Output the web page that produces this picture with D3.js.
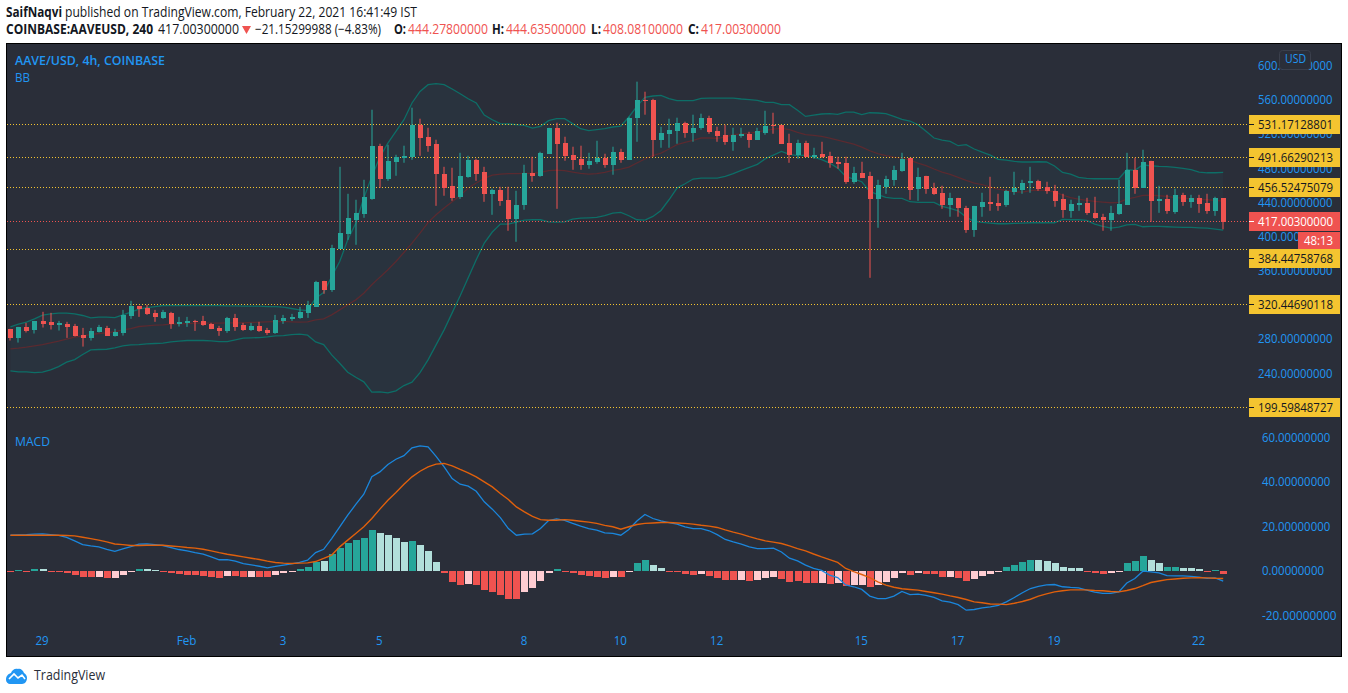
<!DOCTYPE html>
<html>
<head>
<meta charset="utf-8">
<title>AAVE/USD</title>
<script src="https://cdn.jsdelivr.net/npm/d3@7"></script>
<style>
  html, body { margin: 0; padding: 0; background: #fff; }
  svg { display: block; }
  text { font-family: "Open Sans", sans-serif; }
</style>
</head>
<body>
<svg id="chart" width="1348" height="693"></svg>
<script>
// open, high, low, close for every 4h bar
var candles = [
  [291.6,291.6,277.9,281.4],[281,293.9,275.5,293.9],[293.9,298.6,287.3,289.2],[290.4,300.9,286.1,300.9],
  [300.9,311.5,293.1,297.4],[299.8,310.3,290.8,296.2],[296.6,300.9,289.6,298.6],[297.4,299.8,281,293.9],
  [295.1,297.4,282.6,283.4],[284.5,292.7,270.8,281],[281,292.7,277.9,289.2],[288,296.2,287.3,293.9],
  [292.7,295.1,283.4,283.4],[283.4,291.6,282.6,288],[286.9,313.8,283.7,307.9],[306.8,324.4,303.3,318.5],
  [318.5,318.5,305.6,314.6],[316.2,319.7,307.9,309.1],[310.3,313.8,299.8,305.6],[304.4,313.8,303.3,311.5],
  [310.3,311.5,291.6,297.4],[297.4,305.6,294.3,299.8],[298.6,305.6,293.9,300.9],[300.9,302.1,289.2,300.2],
  [300.9,306.8,295.1,296.2],[297.4,298.6,291.2,291.6],[292.7,295.1,283.4,289.2],[289.2,305.6,286.9,304.4],
  [304.4,309.1,289.2,293.9],[296.2,298.6,289.2,290.4],[290.4,298.6,289.2,295.1],[295.1,299.8,288,289.2],
  [290.4,292.7,284.5,286.9],[286.5,307.9,285.7,302.1],[300.9,307.9,297.4,304.4],[303.3,309.1,300.9,305.6],
  [304.4,317.3,303.3,311.5],[310.3,324.4,304.4,319.3],[317.3,347.8,317.3,346.6],[347.8,347.8,332.6,337.2],
  [337.2,390,334.9,386.4],[385.3,481.3,385.3,404],[402.8,449.7,395.8,421.6],[419.2,442.7,390,427.4],
  [426.3,466.1,421.6,446.2],[443.8,548.1,442.7,506],[506,508.3,456.7,467.3],[467.3,507.1,464.9,488.4],
  [487.2,495.4,470.8,493.1],[491.9,506,486,494.2],[493.1,550.5,489.5,530.6],[530.6,537.6,494.2,515.3],
  [516.5,527,498.9,506],[508.3,513,435.6,473.1],[473.1,481.3,447.4,456.7],[459.1,480.2,441.5,445],
  [446.2,497.7,443.8,470.8],[469.6,494.2,468.5,489.5],[489.5,490.7,464.9,473.1],[475.5,481.3,440.3,449.7],
  [449.7,455.6,425.1,454.4],[454.4,457.9,435.6,441.5],[442.7,457.9,406.4,420.4],[420.4,453.2,393.5,436.8],
  [436.8,483.7,431,474.3],[474.3,493.1,463.8,470.8],[470.8,498.9,469.6,497.7],[496.6,527,496.6,527],
  [527,532.9,432.1,508.3],[509.5,516.5,488.4,494.2],[495.4,504.8,477.8,489.5],[490.7,506,477.8,483.7],
  [483.7,497.7,479,488.4],[487.2,511.8,484.9,491.9],[491.9,496.6,480.2,483.7],[483.7,504.8,472,498.9],
  [498.9,502.4,486,489.5],[489.5,539.9,489.5,538.8],[538.8,581,510.6,559.8],[559.8,569.2,542.3,558.7],
  [559.8,560.9,493.1,513],[513,528.2,503.6,521.2],[520,537.6,503.6,524.7],[523.5,538.8,508.3,532.9],
  [532.9,534.1,515.3,521.2],[521.2,542.3,510.6,527],[527,543.5,524.7,538.8],[538.8,541.1,520,522.3],
  [523.5,528.2,510.6,517.7],[518.8,530.6,507.1,510.6],[510.6,527,500.1,518.8],[517.7,527,515.3,520],
  [520,522.3,503.6,513],[513,527,513,523.5],[521.2,546.9,518.8,529.4],[530.6,544.6,520,529.4],
  [530.6,530.6,508.3,508.3],[509.5,520,486,495.4],[495.4,513,490.7,509.5],[509.5,511.8,493.1,493.1],
  [493.1,503.6,490.7,495.4],[496.6,510.6,491.9,493.1],[494.2,498.9,480.2,486],[487.2,493.1,479,484.9],
  [486,493.1,461.4,463.8],[463.8,481.3,461.4,474.3],[474.3,487.2,468.5,468.5],[470.8,475.5,351.3,443.8],
  [443.8,466.1,409.9,460.2],[457.9,470.8,449.7,467.3],[466.1,482.5,459.1,477.8],[476.7,497.7,475.5,490.7],
  [491.9,491.9,442.7,454.4],[455.6,480.2,441.5,469.6],[470.8,470.8,449.7,455.6],[456.7,462.6,448.5,449.7],
  [450.9,459.1,432.1,436.8],[436.8,450.9,422.8,445],[445,445,422.8,433.3],[433.3,435.6,404,407.5],
  [407.5,435.6,399.3,435.6],[434.5,450.9,422.8,440.3],[440.3,469.6,429.8,438],[439.2,449.7,429.8,435.6],
  [436.8,454.4,434.5,453.2],[452,475.5,448.5,456.7],[454.4,466.1,449.7,462.6],[462.6,481.3,450.9,464.9],
  [464.9,466.1,453.2,455.6],[457.9,463.8,449.7,453.2],[453.2,460.2,434.5,441.5],[443.8,449.7,421.6,431],
  [429.8,442.7,421.6,438],[436.8,447.4,429.8,439.2],[439.2,445,425.1,427.4],[427.4,446.2,420.4,421.6],
  [422.8,426.3,406.4,419.2],[419.2,435.6,406.4,427.4],[426.3,466.1,425.1,438],[436.8,497.7,436.8,477.8],
  [477.8,491.9,449.7,456.7],[456.7,501.3,456.7,487.2],[488.4,488.4,416.9,441.5],[441.5,459.1,427.4,443.8],
  [443.8,448.5,426.3,429.8],[428.6,455.6,426.3,448.5],[448.5,450.9,435.6,440.3],[440.3,448.5,433.3,445],
  [445,448.5,427.4,438],[439.2,449.7,426.3,429.8],[429.8,446.2,423.9,445],[444.278,444.635,408.081,417.003]
];

var bbUpper = [
  293.9,297,299.4,303.3,307.6,309.1,309.9,309.9,309.1,307.2,304.4,305.2,305.2,304.8,307.9,311.1,
  314.6,316.5,317.7,318.9,318.9,318.9,318.9,318.9,318.9,318.9,318.9,318.5,318.5,318.1,318.1,318.1,
  317.7,317.7,316.9,315.4,313.8,313,327.5,334.1,352.9,370.4,395.8,415.3,444.7,470,492.7,509.1,
  522.8,536.4,556,569.6,577.5,578.6,577.5,572.4,566.9,561,556,541.9,536.4,531.8,531.4,530.6,
  529.8,526.7,528.6,535.3,537.6,537.6,531.8,525.9,523.6,524.7,525.9,527.9,529,539.6,552.1,562.6,
  564.2,565,561,558.7,558.7,558.7,561.4,561.8,561.8,561.8,561.8,560.7,559.9,559.1,556.7,556.7,
  554,554,547.4,540.3,541.9,543.1,543.5,542.7,545.4,545.4,542.3,544.6,544.3,543.5,540.3,536.8,
  534.9,530.6,522.8,515,512.6,511.1,506,507.2,502.1,498.6,495,490,489.2,487.6,486.9,486.9,
  487.2,486.9,482.2,474.7,472.8,468.9,467.7,467.3,467.3,467.3,467.3,477.9,477.1,483.7,482.5,481.8,
  481.4,480.6,479.4,477.9,475.1,474.3,474.3,474.7
];
var bbMiddle = [
  268.1,268.9,270.1,271.7,273.2,275.2,277.1,279.5,281.8,283.4,284.9,286.1,286.9,288.4,290.4,291.9,
  294.3,295.1,295.9,296.3,297,297.4,297.8,298.2,298.2,298.2,298.2,298.6,298.6,298.6,299,299.4,
  299.8,300.2,300.2,299.8,299.4,299.8,302.1,303.3,307.9,313.8,319.7,325.5,333.3,343.1,352.1,360.7,
  370.4,381,391.9,403.6,416,425.2,433,440.4,447.8,456.4,462.3,467.7,471.6,472.8,473.2,473.2,
  473.6,473.6,474.8,476.7,477.5,476.7,475.1,473.6,472.8,473.2,474.8,477.1,478.7,481,485.7,490.4,
  494.3,497.4,502.1,507.2,509.9,512.2,515,515,514.6,516.1,518.9,519.7,520.8,522,524,525.5,
  526.3,524.7,521.6,518.9,518.1,516.9,515,512.6,510.3,507.9,504.4,500.1,496.6,494.3,492.7,491.5,
  489.2,485.7,482.6,478.7,475.1,472.4,468.9,465.4,462.2,460.3,457.6,455.2,453.6,452.1,451.7,453.3,
  454,453.3,452.1,448.2,445.1,443.5,441.9,440.8,440,439.2,439.6,443.5,445.5,447.8,448.2,447.4,
  446.6,445.1,444.7,443.9,443.5,442.7,441.9,441.1
];
var bbLower = [
  242.4,241.2,241.2,240.4,240.8,243.5,247.4,252.5,255.6,261.5,267,267.4,267.7,269.3,271.6,272.8,
  273.2,274,274.4,274.8,276.3,277.1,277.9,277.9,277.9,277.5,276.7,276.7,278.7,280.6,281,281.4,
  282.2,283.4,283.7,284.9,285.3,284.1,276.3,273.2,261.1,251.3,240.8,234.9,229.5,217.4,217.8,216.6,
  219,225.2,229.1,240.4,255.2,272.8,290.4,310.3,330.2,351.3,372.4,392,404.9,414.2,414.2,416.6,
  418.9,419.3,419.3,416.9,416.6,416.9,420,421.3,421.6,422,424,427.1,427.9,424,419.3,418.9,
  423.2,430.2,442.7,456.4,461.5,467,468.1,468.1,468.1,470.1,473.2,477.1,480.6,484.1,490.7,495,
  499.3,495.8,494.3,495,492.7,489.6,485.7,479.8,470.1,467,463.8,452.5,448.6,445.5,444.3,444.3,
  440.4,439.6,439.6,439.6,434.9,432.6,429.8,422.4,417.3,416.2,415.4,414.6,414.6,415,415.4,415.8,
  415.8,415.8,415.8,419.7,419.3,419.3,418.5,414.2,411.5,409.5,410.7,413.4,413.8,411.1,411.5,411.5,
  411.1,410.7,410.3,410.3,409.9,409.5,408.4,407.2
];

var macdLine = [
  15.9,16.1,16.2,16.4,16.5,16.2,15.8,14.9,13.4,11.7,11.1,10.7,9.6,8.7,9.8,10.8,
  11.9,12,11.7,11.3,10.4,9.5,8.9,8.1,7.4,6.2,4.9,5,4.3,3.2,2.6,2,
  1.3,1.9,2.5,3.1,3.7,4.7,8.1,9.6,14.4,19.7,24.9,29.7,34.3,42.1,44.3,47.6,
  50,51.6,55.1,56,55.5,51.3,46.6,41.3,38.8,37.9,35.6,30.9,27.6,23.8,18.9,15.9,
  16.4,16.5,18.9,22.5,23.2,22.6,21.2,20,18.9,18.2,17,16.7,15.9,18.5,22.3,25.2,
  23.4,22.3,21.6,20.9,19.7,18.9,18.9,17.9,16.2,14,12.9,11.9,10.7,9.9,9.9,10.1,
  8.4,5.6,4.4,2.5,1,0.1,-2,-3.1,-6.4,-7.2,-8.4,-11.4,-12.5,-12.5,-11.4,-9.3,
  -10.7,-10.5,-11.1,-12,-13.5,-14.1,-15.2,-17.7,-17.4,-16.7,-16.2,-15.5,-14,-12,-9.9,-8,
  -7,-6.4,-6.2,-7.2,-7.5,-7.7,-8.7,-9.6,-10.2,-10.2,-9.5,-5.5,-3.5,-0.2,-0.5,-1,
  -2.2,-2.3,-2.3,-2.5,-2.9,-3.4,-3.2,-4.7
];
var signalLine = [
  15.9,15.9,15.9,15.9,15.9,15.9,15.9,15.8,15.6,15,14.4,13.7,12.9,12,11.7,11.3,
  11.3,11.4,11.4,11.4,11.1,10.8,10.4,10.1,9.6,8.9,8.1,7.4,6.8,6.2,5.6,5,
  4.3,3.7,3.4,3.2,3.4,3.5,4.1,5.5,7,10.7,13.7,16.7,19.7,23.4,27.6,31.6,
  35.1,38.8,42.1,44.6,46.6,47.8,48.1,47,45.4,43.9,42.1,39.8,37.6,34.6,31.9,28.6,
  26.4,24.4,22.9,22.6,22.6,22.9,22.6,22.2,21.8,21.2,20.3,19.7,18.6,19.7,20.7,21.2,
  21.4,21.6,21.6,21.4,21.2,20.9,20.4,20,19.4,18.3,17.3,16.4,15.3,14.3,13.4,12.8,
  12.2,11.1,9.9,8.9,7.5,6.2,5,3.7,1,-0.4,-1.7,-3.1,-5,-6.5,-7.4,-8.1,
  -8.4,-8.7,-9.3,-9.9,-10.5,-11.3,-12,-12.9,-14,-14.4,-14.9,-15,-15.2,-14.6,-13.8,-12.8,
  -11.4,-10.4,-9.5,-9,-8.6,-8.6,-8.6,-8.9,-9,-9.3,-9.5,-8.9,-8,-6.7,-5.3,-4.6,
  -4,-3.7,-3.4,-3.2,-3.1,-3.2,-3.4,-3.5
];
var histogram = [
  -0.3,0.3,-0.3,0.7,0.7,-0.4,-0.7,-1.1,-2,-2.9,-2.9,-2.9,-3.4,-3.4,-2,-0.2,
  0.7,0.7,0.2,-0.2,-1.1,-1.6,-2,-2,-2.5,-2.9,-3.4,-2.5,-2.5,-2.9,-2.9,-2.9,
  -2.9,-2,-1.1,-0.7,0.7,1.6,3.8,4.3,7.4,10.1,12.3,13.7,14.6,18.2,16.8,15.9,
  14.6,12.8,13.2,11.4,8.7,3.8,-1.1,-5.2,-6.5,-6.1,-6.5,-8.7,-9.7,-11,-12.8,-12.8,
  -9.7,-7.8,-4.7,-1.1,0.7,-0.2,-1.1,-2,-2.5,-2.9,-3.4,-2.9,-2.9,-0.3,3.4,4.7,
  2.5,1.1,-0.2,-0.7,-1.6,-2,-1.6,-2.5,-3.4,-4.3,-4.3,-4.3,-4.7,-4.3,-3.4,-2.9,
  -3.8,-5,-4.7,-5.6,-5.6,-5.6,-6,-5.6,-6.8,-6.5,-6.2,-7.4,-6.5,-5.2,-3.4,-1.1,
  -2,-1.1,-1.6,-1.6,-2.9,-2.9,-3.4,-4.7,-3.8,-2.5,-1.6,-0.7,1.6,2.5,3.8,4.7,
  4.7,4.3,3.4,1.6,1.1,1.1,-0.2,-1.1,-1.6,-1.1,-0.3,3.4,4.3,6.5,4.7,3.4,
  1.6,1.6,1.1,1.1,0.7,-0.7,0.2,-1.6
];
// g = strong green, l = pale green, r = strong red, p = pale red
var histShade = [
  'r','g','r','g','l','r','r','r','r','r','r','p','r','p','p','p',
  'g','l','l','r','r','r','r','r','r','r','r','p','r','r','p','r',
  'r','p','p','p','g','g','g','l','g','g','g','g','g','g','l','l',
  'l','l','g','l','l','l','r','r','r','p','r','r','r','r','r','r',
  'p','p','p','p','g','r','r','r','r','r','r','p','r','p','g','g',
  'l','l','r','r','r','r','p','r','r','r','r','p','r','p','p','p',
  'r','r','r','r','r','p','r','p','r','p','p','r','p','p','p','p',
  'r','p','r','r','r','p','r','r','p','p','p','p','g','g','g','g',
  'l','l','l','l','l','l','r','r','r','p','p','g','g','g','l','l',
  'g','g','l','l','l','r','g','r'
];

var priceTicks = [600, 560, 520, 480, 440, 400, 360, 320, 280, 240, 200];
var macdTicks = [60, 40, 20, 0, -20];
var levels = [531.17128801, 491.66290213, 456.52475079, 384.44758768, 320.44690118, 199.59848727];
var lastPrice = 417.003;
var dateBars = [4, 22, 34, 46, 64, 76, 88, 106, 118, 130, 148];
var dateLabels = ['29', 'Feb', '3', '5', '8', '10', '12', '15', '17', '19', '22'];

var UP = '#26a69a';
var DOWN = '#ef5350';
var BLUE = '#2196f3';
var YELLOW = '#f4c430';
var shades = { g: '#26a69a', l: '#b2dfdb', r: '#ef5350', p: '#ffcdd2' };

var svg = d3.select('#chart');
var frame = { left: 6.5, top: 43.5, right: 1341.5, bottom: 656.5, axis: 1249 };

var x = d3.scaleLinear().domain([0, 151]).range([10.4, 1223.2]);
var yPrice = d3.scaleLinear().domain([199.59848727, 531.17128801]).range([407.4, 124.2]);
var yMacd = d3.scaleLinear().domain([-20, 60]).range([615.3, 436.9]);

function addText(sel, opts) {
  var t = sel.append('text')
    .attr('x', opts.x)
    .attr('y', opts.y)
    .attr('fill', opts.fill || '#131722')
    .attr('font-size', opts.size || 13)
    .attr('font-weight', opts.weight || 400)
    .text(opts.text);
  if (opts.width) {
    t.attr('textLength', opts.width).attr('lengthAdjust', 'spacingAndGlyphs');
  }
  return t;
}

function drawHeader() {
  var head = svg.append('g');
  addText(head, { x: 6, y: 17, weight: 700, text: 'SaifNaqvi', width: 56, size: 14 });
  addText(head, { x: 65, y: 17, text: 'published on TradingView.com, February 22, 2021 16:41:49 IST', width: 352, size: 14 });
  addText(head, { x: 6, y: 34, weight: 700, text: 'COINBASE:AAVEUSD, 240', width: 147, size: 14 });
  addText(head, { x: 158, y: 34, text: '417.00300000', width: 81, size: 14 });
  head.append('path').attr('d', 'M242,26h9l-4.5,8z').attr('fill', DOWN);
  addText(head, { x: 255, y: 34, text: '\u221221.15299988 (\u22124.83%)', width: 126, size: 14 });
  var parts = [
    ['O:', 394, '444.27800000', 408],
    ['H:', 492, '444.63500000', 506],
    ['L:', 591, '408.08100000', 603],
    ['C:', 688, '417.00300000', 701]
  ];
  parts.forEach(function (p) {
    addText(head, { x: p[1], y: 34, weight: 700, text: p[0], width: p[3] - p[1] - 2, size: 14 });
    addText(head, { x: p[3], y: 34, fill: DOWN, text: p[2], width: 80, size: 14 });
  });
}

function drawFrame() {
  svg.append('rect')
    .attr('x', frame.left).attr('y', frame.top)
    .attr('width', frame.right - frame.left).attr('height', frame.bottom - frame.top)
    .attr('fill', '#2a2e39').attr('stroke', '#000').attr('stroke-width', 1);
  svg.append('clipPath').attr('id', 'plot').append('rect')
    .attr('x', frame.left + 0.5).attr('y', frame.top + 0.5)
    .attr('width', frame.axis - frame.left).attr('height', frame.bottom - frame.top - 1);
}

function levelY(d) {
  return Math.floor(yPrice(d)) + 0.5;
}

function drawLevels() {
  var g = svg.append('g');
  g.selectAll('line.level').data(levels).enter().append('line')
    .attr('class', 'level')
    .attr('x1', 7).attr('x2', frame.axis)
    .attr('y1', levelY)
    .attr('y2', levelY)
    .attr('stroke', YELLOW).attr('stroke-dasharray', '1 2');
  g.append('line')
    .attr('x1', 7).attr('x2', frame.axis)
    .attr('y1', levelY(lastPrice))
    .attr('y2', levelY(lastPrice))
    .attr('stroke', DOWN).attr('stroke-dasharray', '1 2');
}

function drawBands() {
  var g = svg.append('g').attr('clip-path', 'url(#plot)');
  var band = d3.area()
    .x(function (d, i) { return x(i); })
    .y0(function (d, i) { return yPrice(bbLower[i]); })
    .y1(function (d) { return yPrice(d); });
  g.append('path').attr('d', band(bbUpper)).attr('fill', '#26a69a').attr('fill-opacity', 0.05);

  var line = d3.line()
    .x(function (d, i) { return x(i); })
    .y(function (d) { return yPrice(d); });
  [[bbUpper, '#0d6e67'], [bbLower, '#0d6e67'], [bbMiddle, '#5a2a30']].forEach(function (s) {
    g.append('path').attr('d', line(s[0])).attr('fill', 'none')
      .attr('stroke', s[1]).attr('stroke-width', 1.3);
  });
}

function drawCandles() {
  var g = svg.append('g').attr('clip-path', 'url(#plot)');
  var bars = g.selectAll('g.candle').data(candles).enter().append('g').attr('class', 'candle');
  function color(d) { return d[3] >= d[0] ? UP : DOWN; }
  bars.append('rect')
    .attr('x', function (d, i) { return Math.round(x(i)) - 0.5; })
    .attr('width', 1)
    .attr('y', function (d) { return yPrice(d[1]); })
    .attr('height', function (d) { return yPrice(d[2]) - yPrice(d[1]); })
    .attr('fill', color);
  bars.append('rect')
    .attr('x', function (d, i) { return Math.round(x(i)) - 2.5; })
    .attr('width', 5)
    .attr('y', function (d) { return yPrice(Math.max(d[0], d[3])); })
    .attr('height', function (d) { return Math.max(1, Math.abs(yPrice(d[0]) - yPrice(d[3]))); })
    .attr('fill', color)
    .attr('shape-rendering', 'crispEdges');
}

function drawMacd() {
  var g = svg.append('g');
  g.selectAll('rect.hist').data(histogram).enter().append('rect')
    .attr('class', 'hist')
    .attr('x', function (d, i) { return Math.round(x(i)) - 3.5; })
    .attr('width', 7)
    .attr('y', function (d) { return yMacd(Math.max(d, 0)); })
    .attr('height', function (d) { return Math.max(1, Math.abs(yMacd(d) - yMacd(0))); })
    .attr('fill', function (d, i) { return shades[histShade[i]]; })
    .attr('shape-rendering', 'crispEdges');

  var line = d3.line()
    .x(function (d, i) { return x(i); })
    .y(function (d) { return yMacd(d); });
  g.append('path').attr('d', line(macdLine)).attr('fill', 'none').attr('stroke', '#1a86dc').attr('stroke-width', 1.3);
  g.append('path').attr('d', line(signalLine)).attr('fill', 'none').attr('stroke', '#e0600c').attr('stroke-width', 1.4);
}

function styleAxis(g) {
  g.select('.domain').remove();
  g.selectAll('.tick line').remove();
  g.selectAll('text')
    .attr('fill', BLUE)
    .attr('font-size', 13)
    .attr('font-family', '"Open Sans", sans-serif')
    .attr('textLength', function () { return this.textContent.length * 6.2; })
    .attr('lengthAdjust', 'spacingAndGlyphs');
}

function drawAxes() {
  var fmt = function (d) { return d.toFixed(8); };
  var right = d3.axisRight(yPrice).tickValues(priceTicks).tickFormat(fmt).tickSize(0).tickPadding(0);
  svg.append('g').attr('transform', 'translate(1258,0)').call(right).call(styleAxis);
  var macdAxis = d3.axisRight(yMacd).tickValues(macdTicks).tickFormat(fmt).tickSize(0).tickPadding(0);
  svg.append('g').attr('transform', 'translate(1262,0)').call(macdAxis).call(styleAxis);

  var dateAxis = d3.axisBottom(x).tickValues(dateBars)
    .tickFormat(function (d, i) { return dateLabels[i]; }).tickSize(0).tickPadding(0);
  var bottom = svg.append('g').attr('transform', 'translate(-1,636)').call(dateAxis);
  bottom.select('.domain').remove();
  bottom.selectAll('text')
    .attr('fill', BLUE).attr('font-size', 13).attr('font-family', '"Open Sans", sans-serif')
    .attr('textLength', function () { return this.textContent.length * 6.6; })
    .attr('lengthAdjust', 'spacingAndGlyphs');
}

// labelY moves the tag off its level when another tag sits there
function priceTag(level, bg, fg, label, labelY) {
  var cy = labelY || levelY(level);
  svg.append('rect').attr('x', 1249).attr('y', cy - 9.5).attr('width', 91).attr('height', 19).attr('fill', bg);
  svg.append('line').attr('x1', 1249).attr('x2', 1254).attr('y1', cy).attr('y2', cy).attr('stroke', fg);
  addText(svg, { x: 1258, y: cy + 4.5, fill: fg, size: 13, text: label, width: 75 });
}

function drawTags() {
  levels.forEach(function (d) {
    priceTag(d, YELLOW, '#131722', d.toFixed(8), d === 384.44758768 ? 258.5 : null);
  });
  priceTag(lastPrice, DOWN, '#fff', lastPrice.toFixed(8));
  svg.append('rect').attr('x', 1298).attr('y', 232).attr('width', 42).attr('height', 17).attr('fill', DOWN);
  addText(svg, { x: 1304, y: 245, fill: '#fff', size: 13, text: '48:13', width: 29 });

  svg.append('rect').attr('x', 1279.5).attr('y', 50.5).attr('width', 31).attr('height', 19).attr('rx', 3)
    .attr('fill', '#2a2e39').attr('stroke', '#3a3f4c');
  addText(svg, { x: 1285, y: 63, fill: BLUE, size: 13, text: 'USD', width: 21 });
}

function drawTitles() {
  addText(svg, { x: 15, y: 65, fill: BLUE, size: 13, weight: 600, text: 'AAVE/USD, 4h, COINBASE', width: 150 });
  addText(svg, { x: 15, y: 82, fill: BLUE, size: 13, text: 'BB', width: 15 });
  addText(svg, { x: 15, y: 446, fill: BLUE, size: 13, text: 'MACD', width: 35 });
}

function drawLogo() {
  svg.append('path')
    .attr('d', 'M6,680c0,-4 2,-6 5,-7c1,-3 4,-5 7,-4c2,-1 5,1 6,4c2,1 3,3 3,5c0,3 -2,6 -5,6h-12c-2,0 -4,-2 -4,-4z')
    .attr('fill', '#2196f3');
  svg.append('path')
    .attr('d', 'M9,679l5,-5l4,4l4,-3l3,4')
    .attr('fill', 'none').attr('stroke', '#fff').attr('stroke-width', 1.6);
  addText(svg, { x: 34, y: 680, size: 14, fill: '#2a2e39', text: 'TradingView', width: 71 });
}

drawHeader();
drawFrame();
drawBands();
drawLevels();
drawCandles();
drawMacd();
drawAxes();
drawTags();
drawTitles();
drawLogo();
</script>
</body>
</html>
